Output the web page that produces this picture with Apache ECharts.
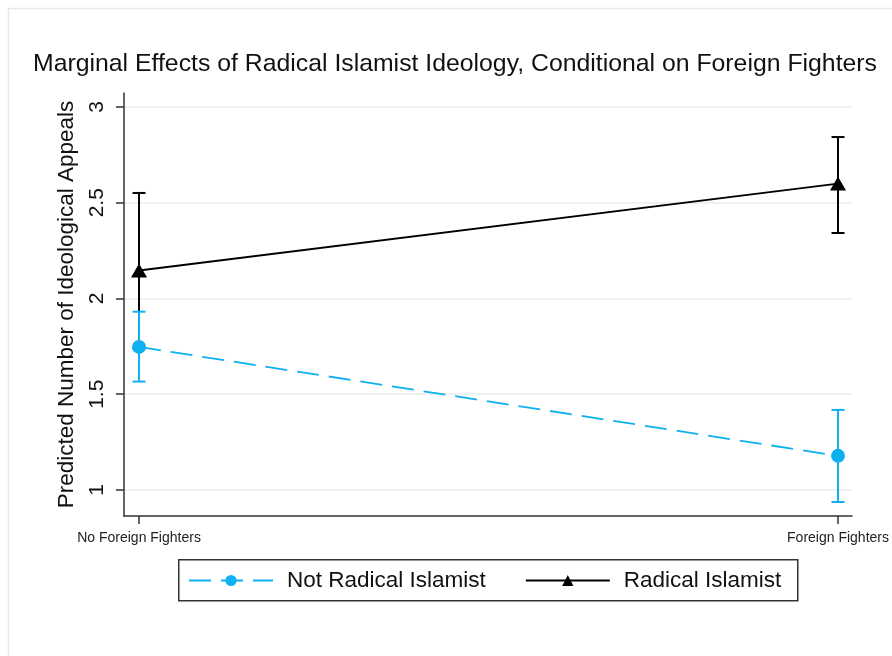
<!DOCTYPE html>
<html>
<head>
<meta charset="utf-8">
<script src="https://cdn.jsdelivr.net/npm/echarts@6/dist/echarts.min.js"></script>
<style>
  html, body { margin: 0; padding: 0; background: #fff; }
  #chart { width: 892px; height: 656px; }
</style>
</head>
<body>
<div id="chart"></div>
<script>
// Predicted number of ideological appeals by foreign-fighter status
const categories = ['No Foreign Fighters', 'Foreign Fighters'];
const xPositions = [0, 1];

const notRadical = [1.747, 1.178];
const notRadicalLow = [1.566, 0.937];
const notRadicalHigh = [1.931, 1.418];

const radical = [2.146, 2.600];
const radicalLow = [1.743, 2.342];
const radicalHigh = [2.551, 2.843];

const yTicks = [1, 1.5, 2, 2.5, 3];

const BLUE = '#0db1ef';
const BLACK = '#000000';
const FONT = '"Liberation Sans", Arial, sans-serif';

function pairs(ys) {
  return xPositions.map((x, i) => [x, ys[i]]);
}
function ciRows(low, high) {
  return xPositions.map((x, i) => [x, low[i], high[i]]);
}

// vertical capped interval drawn through the axis scales
function errorBar(color) {
  return function (params, api) {
    const x = api.value(0);
    const lo = api.coord([x, api.value(1)]);
    const hi = api.coord([x, api.value(2)]);
    const half = 6.5;
    const style = { stroke: color, lineWidth: 2, fill: null };
    return {
      type: 'group',
      children: [
        { type: 'line', shape: { x1: lo[0], y1: lo[1], x2: hi[0], y2: hi[1] }, style },
        { type: 'line', shape: { x1: lo[0] - half, y1: lo[1], x2: lo[0] + half, y2: lo[1] }, style },
        { type: 'line', shape: { x1: hi[0] - half, y1: hi[1], x2: hi[0] + half, y2: hi[1] }, style }
      ]
    };
  };
}

const chart = echarts.init(document.getElementById('chart'));
chart.setOption({
  animation: false,
  backgroundColor: '#ffffff',
  textStyle: { fontFamily: FONT },
  title: {
    text: 'Marginal Effects of Radical Islamist Ideology, Conditional on Foreign Fighters',
    left: 28,
    top: 47,
    textStyle: { fontFamily: FONT, fontSize: 24.8, fontWeight: 'normal', color: '#111' }
  },
  graphic: [
    {
      type: 'rect', left: 6, top: 6, silent: true, z: -10,
      shape: { width: 1000, height: 800 },
      style: { fill: null, stroke: '#e3ebee', lineWidth: 1.5 }
    },
    {
      type: 'rect', left: 178, top: 559, silent: true,
      shape: { width: 619, height: 41 },
      style: { fill: '#fff', stroke: '#333', lineWidth: 1.5 }
    }
  ],
  legend: {
    left: 183,
    top: 564,
    itemWidth: 84,
    itemHeight: 14,
    itemGap: 39,
    data: ['Not Radical Islamist', 'Radical Islamist'],
    textStyle: { fontFamily: FONT, fontSize: 22.5, color: '#111', padding: [0, 0, 0, 9] },
    z: 10
  },
  grid: { left: 124, right: 40, top: 93, bottom: 140, containLabel: false },
  xAxis: {
    type: 'value',
    min: -0.0215,
    max: 1.02,
    axisLine: { show: true, onZero: false, lineStyle: { color: '#333', width: 1.5 } },
    axisTick: { show: true, length: 8, customValues: xPositions, lineStyle: { color: '#333', width: 1.5 } },
    axisLabel: {
      customValues: xPositions,
      formatter: v => categories[Math.round(v)],
      fontFamily: FONT, fontSize: 14, color: '#222', margin: 15
    },
    splitLine: { show: false }
  },
  yAxis: {
    type: 'value',
    min: 0.864,
    max: 3.073,
    name: 'Predicted Number of Ideological Appeals',
    nameLocation: 'middle',
    nameRotate: 90,
    nameGap: 46,
    nameTextStyle: { fontFamily: FONT, fontSize: 22.5, color: '#111' },
    axisLine: { show: true, onZero: false, lineStyle: { color: '#333', width: 1.5 } },
    axisTick: { show: true, length: 8, customValues: yTicks, lineStyle: { color: '#333', width: 1.5 } },
    axisLabel: {
      customValues: yTicks,
      rotate: 90,
      fontFamily: FONT, fontSize: 21, color: '#111', margin: 16
    },
    splitLine: { show: true, lineStyle: { color: '#e6eef0', width: 1.5 } }
  },
  series: [
    {
      type: 'custom',
      name: 'ci-radical',
      renderItem: errorBar(BLACK),
      data: ciRows(radicalLow, radicalHigh),
      encode: { x: 0, y: [1, 2] },
      z: 2
    },
    {
      type: 'custom',
      name: 'ci-notradical',
      renderItem: errorBar(BLUE),
      data: ciRows(notRadicalLow, notRadicalHigh),
      encode: { x: 0, y: [1, 2] },
      z: 3
    },
    {
      type: 'line',
      name: 'Radical Islamist',
      data: pairs(radical),
      symbol: 'triangle',
      symbolSize: [16, 14],
      itemStyle: { color: BLACK },
      lineStyle: { color: BLACK, width: 1.8 },
      z: 4
    },
    {
      type: 'line',
      name: 'Not Radical Islamist',
      data: pairs(notRadical),
      symbol: 'circle',
      symbolSize: 14,
      itemStyle: { color: BLUE },
      lineStyle: { color: BLUE, width: 1.8, type: [22, 10] },
      z: 5
    }
  ]
});
</script>
</body>
</html>
